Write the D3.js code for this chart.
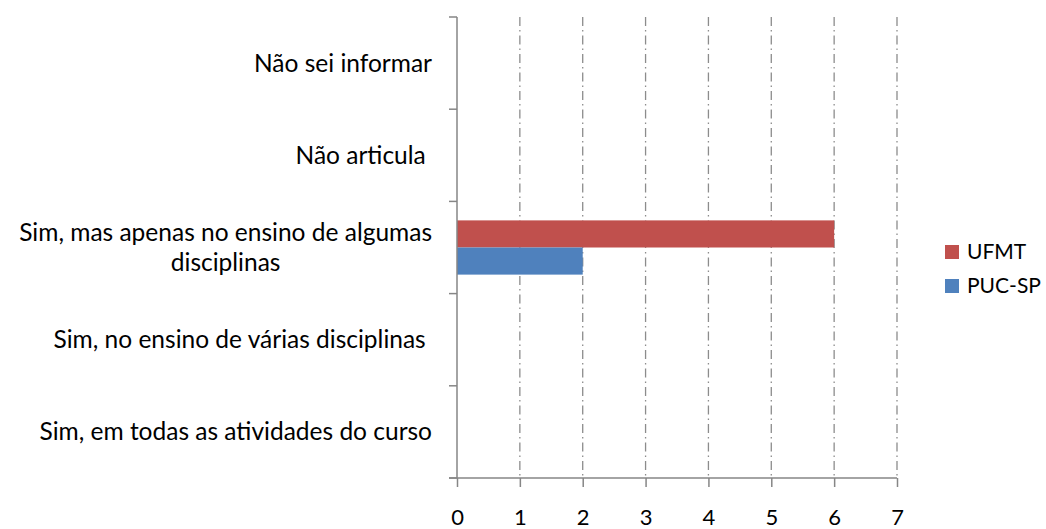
<!DOCTYPE html>
<html>
<head>
<meta charset="utf-8">
<script src="https://cdn.jsdelivr.net/npm/d3@7"></script>
<style>
    body { margin: 0; background: #fff; }
    text { font-family: Lato, "Open Sans", sans-serif; fill: #000; white-space: pre; }
</style>
</head>
<body>
<svg id="chart" width="1046" height="529"></svg>
<script>
// categories bottom -> top, as in the picture (two carry a trailing space)
const categories = [
    "Sim, em todas as atividades do curso",
    "Sim, no ensino de várias disciplinas ",
    "Sim, mas apenas no ensino de algumas disciplinas",
    "Não articula ",
    "Não sei informar"
];
const seriesNames = ["UFMT", "PUC-SP"];
const ufmtValues = [0, 0, 6, 0, 0];
const pucValues = [0, 0, 2, 0, 0];
const xTicks = [0, 1, 2, 3, 4, 5, 6, 7];
const colors = { "UFMT": "#C0504D", "PUC-SP": "#4F81BD" };

// label lines, as wrapped in the picture
const labelLines = {
    "Sim, mas apenas no ensino de algumas disciplinas": ["Sim, mas apenas no ensino de algumas", "disciplinas"]
};

let data = categories.map((c, i) => ({
    category: c,
    values: [
        { name: "UFMT", value: ufmtValues[i] },
        { name: "PUC-SP", value: pucValues[i] }
    ]
}));

let svg = d3.select("#chart");
let margin = {top: 17, right: 149, bottom: 51, left: 457};
let width = +svg.attr("width") - margin.left - margin.right;
let height = +svg.attr("height") - margin.top - margin.bottom;

let x_scale = d3.scaleLinear()
    .domain([0, 7])
    .range([0, width]);

let y_scale = d3.scaleBand()
    .domain(categories)
    .range([height, 0])
    .padding(0);

// UFMT on top, PUC-SP below inside each band
let sub_scale = d3.scaleBand()
    .domain(seriesNames)
    .range([0, y_scale.bandwidth()])
    .paddingInner(0)
    .paddingOuter(0.7);

let g = svg.append("g")
    .attr("transform", `translate(${margin.left},${margin.top})`);

// vertical grid
g.append("g")
    .selectAll("line")
    .data(xTicks.slice(1))
    .enter().append("line")
    .attr("x1", d => x_scale(d))
    .attr("x2", d => x_scale(d))
    .attr("y1", 0)
    .attr("y2", height)
    .attr("stroke", "#8c8c8c")
    .attr("stroke-width", 1.3)
    .attr("stroke-dasharray", "9,4,1.5,4");

// bars
let groups = g.selectAll(".cat")
    .data(data)
    .enter().append("g")
    .attr("transform", d => `translate(0,${y_scale(d.category)})`);

groups.selectAll("rect")
    .data(d => d.values)
    .enter().append("rect")
    .attr("x", 0)
    .attr("y", d => sub_scale(d.name))
    .attr("width", d => x_scale(d.value))
    .attr("height", sub_scale.bandwidth())
    .attr("fill", d => colors[d.name]);

// x axis
let xAxis = g.append("g")
    .attr("transform", `translate(0,${height})`)
    .call(d3.axisBottom(x_scale).tickValues(xTicks).tickFormat(d3.format("d"))
        .tickSize(9).tickSizeOuter(0).tickPadding(22));
xAxis.select(".domain").attr("stroke", "#868686").attr("stroke-width", 1.5)
    .attr("d", `M-8,0H${width}`);
xAxis.selectAll(".tick line").attr("stroke", "#868686").attr("stroke-width", 1.5);
xAxis.selectAll(".tick text")
    .style("font-family", "Lato, sans-serif")
    .style("font-size", "22px")
    .attr("fill", "#000");

// y axis (tick marks at band edges)
let yEdges = categories.map(c => y_scale(c)).concat([height]);
g.append("line")
    .attr("x1", 0).attr("x2", 0)
    .attr("y1", 0).attr("y2", height)
    .attr("stroke", "#868686").attr("stroke-width", 1.5);
g.selectAll(".ytick")
    .data(yEdges)
    .enter().append("line")
    .attr("x1", -8).attr("x2", 0)
    .attr("y1", d => d).attr("y2", d => d)
    .attr("stroke", "#868686").attr("stroke-width", 1.5);

// category labels, wrapped lines centred inside a right-aligned block
let labels = g.selectAll(".ylabel")
    .data(categories)
    .enter().append("text")
    .attr("class", "ylabel")
    .style("font-size", "24.5px");

labels.each(function(c) {
    let lines = labelLines[c] || [c];
    let t = d3.select(this);
    let widths = lines.map(l => {
        let s = t.append("tspan").text(l);
        let w = s.node().getComputedTextLength();
        s.remove();
        return w;
    });
    let maxW = d3.max(widths);
    let cx = -25 - maxW / 2;
    let cy = y_scale(c) + y_scale.bandwidth() / 2;
    let lh = 30;
    lines.forEach((l, i) => {
        t.append("tspan")
            .attr("x", cx)
            .attr("y", cy + (i - (lines.length - 1) / 2) * lh)
            .attr("dy", "0.35em")
            .attr("text-anchor", "middle")
            .text(l);
    });
});

// legend
let legend = svg.append("g")
    .attr("transform", "translate(945,245)");
let li = legend.selectAll("g")
    .data(seriesNames)
    .enter().append("g")
    .attr("transform", (d, i) => `translate(0,${i * 34})`);
li.append("rect")
    .attr("width", 14).attr("height", 14)
    .attr("fill", d => colors[d]);
li.append("text")
    .attr("x", 22).attr("y", 7).attr("dy", "0.35em")
    .style("font-size", "21px")
    .text(d => d);
</script>
</body>
</html>
